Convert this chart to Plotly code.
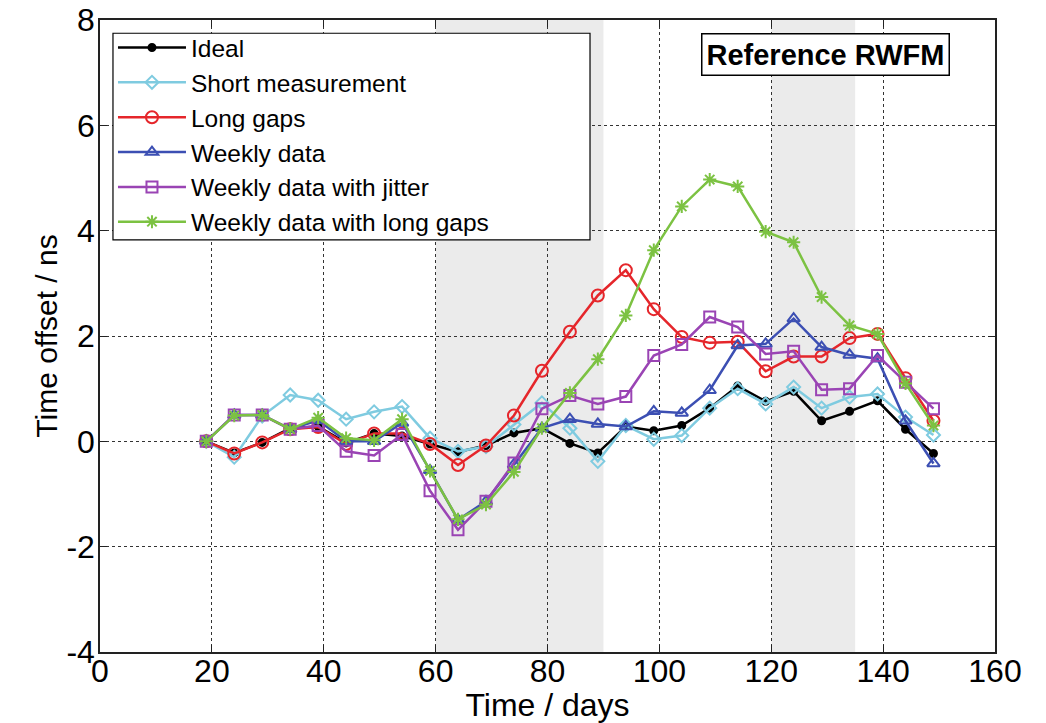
import plotly.graph_objects as go

days = [19, 24, 29, 34, 39, 44, 49, 54, 59, 64, 69, 74, 79, 84, 89, 94, 99,
        104, 109, 114, 119, 124, 129, 134, 139, 144, 149]

ideal = [0, -0.22, -0.02, 0.25, 0.28, -0.03, 0.15, 0.10, -0.05, -0.20, -0.08,
         0.16, 0.25, -0.04, -0.22, 0.28, 0.20, 0.30, 0.63, 1.05, 0.76, 0.95,
         0.39, 0.57, 0.77, 0.23, -0.23]
short_meas = [0, -0.30, 0.48, 0.88, 0.78, 0.42, 0.56, 0.66, 0.06, -0.19, -0.10,
              0.32, 0.73, 0.25, -0.38, 0.30, 0.04, 0.11, 0.63, 1.00, 0.71, 1.03,
              0.63, 0.84, 0.90, 0.46, 0.12]
long_gaps = [0, -0.23, -0.02, 0.23, 0.27, -0.05, 0.15, 0.15, -0.05, -0.45, -0.08,
             0.49, 1.34, 2.08, 2.77, 3.25, 2.51, 1.98, 1.87, 1.89, 1.33, 1.61,
             1.61, 1.96, 2.04, 1.20, 0.39]
weekly = [0, 0.50, 0.50, 0.23, 0.40, 0.00, 0.00, 0.35, -0.55, -1.49, -1.14,
          -0.44, 0.25, 0.42, 0.33, 0.28, 0.57, 0.54, 0.97, 1.82, 1.85, 2.33,
          1.79, 1.64, 1.57, 0.39, -0.42]
weekly_jitter = [0, 0.50, 0.50, 0.23, 0.30, -0.19, -0.27, 0.13, -0.94, -1.68, -1.14,
                 -0.41, 0.62, 0.87, 0.71, 0.85, 1.63, 1.84, 2.36, 2.17, 1.66, 1.71,
                 0.98, 1.00, 1.63, 1.12, 0.62]
weekly_long_gaps = [0, 0.49, 0.50, 0.23, 0.45, 0.06, 0.02, 0.42, -0.56, -1.48, -1.20,
                    -0.58, 0.25, 0.92, 1.56, 2.39, 3.63, 4.46, 4.97, 4.84, 3.98, 3.78,
                    2.74, 2.20, 2.04, 1.10, 0.30]

x_ticks = [0, 20, 40, 60, 80, 100, 120, 140, 160]
x_ticklabels = ["0", "20", "40", "60", "80", "100", "120", "140", "160"]
y_ticks = [-4, -2, 0, 2, 4, 6, 8]
y_ticklabels = ["-4", "-2", "0", "2", "4", "6", "8"]

shaded_spans = [(60, 90), (120, 135)]

series = [
    ("Ideal", ideal, "#000000", "circle", 7),
    ("Short measurement", short_meas, "#7fcbe0", "diamond-open", 10),
    ("Long gaps", long_gaps, "#e5262b", "circle-open", 12),
    ("Weekly data", weekly, "#3c4fb3", "triangle-up-open", 11),
    ("Weekly data with jitter", weekly_jitter, "#9a44b4", "square-open", 11),
    ("Weekly data with long gaps", weekly_long_gaps, "#7cc242", "asterisk-open", 11),
]

FONT = "Liberation Sans, Arial, sans-serif"

fig = go.Figure()
for i, (name, vals, col, sym, sz) in enumerate(series):
    fig.add_trace(go.Scatter(
        x=days, y=vals, name=name, mode="lines+markers",
        line=dict(color=col, width=2.5),
        marker=dict(symbol=sym, size=sz, color=col,
                    line=dict(color=col, width=2)),
        legendgroup=f"g{i}",
    ))

for x0, x1 in shaded_spans:
    fig.add_shape(type="rect", xref="x", yref="paper", x0=x0, x1=x1, y0=0, y1=1,
                  fillcolor="#ebebeb", line=dict(width=0), layer="below")

# legend frame (white box with black border)
fig.add_shape(type="rect", xref="paper", yref="paper",
              x0=0.0145, x1=0.5475, y0=0.652, y1=0.979,
              fillcolor="white", line=dict(color="black", width=1.2), layer="above")

fig.add_annotation(
    x=0.811, y=0.945, xref="paper", yref="paper", xanchor="center", yanchor="middle",
    text="<b>Reference RWFM</b>", showarrow=False,
    font=dict(family=FONT, size=29, color="black"),
    bgcolor="white", bordercolor="black", borderwidth=1.5, borderpad=4,
)

axis_common = dict(
    showline=True, linecolor="#222222", linewidth=1.5, mirror="ticks",
    ticks="inside", ticklen=7, tickcolor="#222222", tickwidth=1,
    showgrid=True, gridcolor="#333333", griddash="dot", gridwidth=1,
    zeroline=False, automargin=False, tickmode="array",
    tickfont=dict(family=FONT, size=32, color="black"),
)

fig.update_layout(
    width=1046, height=723,
    margin=dict(l=100, r=51, t=20, b=71),
    paper_bgcolor="white", plot_bgcolor="white",
    font=dict(family=FONT, color="black"),
    showlegend=True,
    legend=dict(
        x=0.0145, y=0.992, xanchor="left", yanchor="top",
        bgcolor="rgba(0,0,0,0)", borderwidth=0,
        font=dict(family=FONT, size=24.5, color="black"),
        tracegroupgap=0, itemwidth=68,
    ),
    xaxis=dict(range=[0, 160], tickvals=x_ticks, ticktext=x_ticklabels,
               ticklabelstandoff=-10,
               title=dict(text="Time / days", font=dict(family=FONT, size=32)),
               **axis_common),
    yaxis=dict(range=[-4, 8], tickvals=y_ticks, ticktext=y_ticklabels,
               ticklabelstandoff=-3,
               title=dict(text="Time offset / ns", font=dict(family=FONT, size=30),
                          standoff=0),
               **axis_common),
)

fig.write_html("out.html")
